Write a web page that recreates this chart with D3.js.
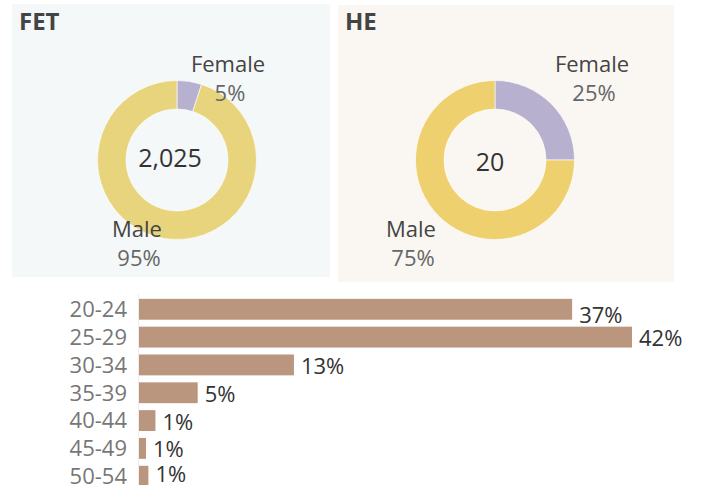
<!DOCTYPE html>
<html>
<head>
<meta charset="utf-8">
<script src="https://cdn.jsdelivr.net/npm/d3@7"></script>
<style>
  body { margin: 0; background: #fff; }
  svg { display: block; font-family: "Open Sans", "Noto Sans", sans-serif; }
</style>
</head>
<body>
<svg id="chart" width="709" height="485"></svg>
<script>
// gender split per sector
var sectors = ["FET", "HE"];
var totals = ["2,025", "20"];
var genders = ["Female", "Male"];
var fetShares = [5, 95];
var heShares = [25, 75];

// age bands
var ageBands = ["20-24", "25-29", "30-34", "35-39", "40-44", "45-49", "50-54"];
var ageShares = [36.9, 42.0, 13.2, 5.0, 1.4, 0.6, 0.8];
var ageLabels = ["37%", "42%", "13%", "5%", "1%", "1%", "1%"];

var svg = d3.select("#chart");

// panel layout (positions only)
var panels = [
  {x: 12, y: 4, w: 318, h: 273, bg: "#f4f8f9", cx: 177, cy: 160, male: "#e8d47d",
   fem: {dx: 51}, mal: {dx: -40}, tdx: -7, tdy: 7, shares: fetShares},
  {x: 338, y: 5, w: 336, h: 277, bg: "#faf7f3", cx: 495, cy: 160, male: "#eed06e",
   fem: {dx: 97}, mal: {dx: -84}, tdx: -5, tdy: 11, shares: heShares}
];

var pie = d3.pie().sort(null).value(function(d) { return d; });
var arc = d3.arc().innerRadius(51).outerRadius(79.5);

panels.forEach(function(p, i) {
  var g = svg.append("g");
  g.append("rect")
    .attr("x", p.x).attr("y", p.y)
    .attr("width", p.w).attr("height", p.h)
    .attr("fill", p.bg);

  g.append("text")
    .attr("x", p.x + 7).attr("y", 30)
    .attr("font-size", 24).attr("font-weight", "bold")
    .attr("fill", "#444")
    .text(sectors[i]);

  var color = d3.scaleOrdinal().domain(genders).range(["#b7b1cf", p.male]);

  var dg = g.append("g").attr("transform", "translate(" + p.cx + "," + p.cy + ")");
  dg.selectAll("path")
    .data(pie(p.shares))
    .enter().append("path")
    .attr("d", arc)
    .attr("fill", function(d, j) { return color(genders[j]); })
    .attr("stroke", "#fff")
    .attr("stroke-width", 0.6);

  dg.append("text")
    .attr("x", p.tdx).attr("y", p.tdy)
    .attr("text-anchor", "middle")
    .attr("font-size", 25)
    .attr("fill", "#333")
    .text(totals[i]);

  var labs = [
    {name: genders[0], pct: p.shares[0] + "%", dx: p.fem.dx, dy: -88},
    {name: genders[1], pct: p.shares[1] + "%", dx: p.mal.dx, dy: 77}
  ];
  labs.forEach(function(l) {
    dg.append("text")
      .attr("x", l.dx).attr("y", l.dy)
      .attr("text-anchor", "middle")
      .attr("font-size", 22)
      .attr("fill", "#444")
      .text(l.name);
    dg.append("text")
      .attr("x", l.dx + 2).attr("y", l.dy + 29)
      .attr("text-anchor", "middle")
      .attr("font-size", 22)
      .attr("fill", "#666")
      .text(l.pct);
  });
});

// age bars
var x = d3.scaleLinear().domain([0, 42]).range([139, 632]);
var y = d3.scaleBand().domain(ageBands).range([295.5, 490]).paddingInner(0.25).paddingOuter(0.12);

svg.append("line")
  .attr("x1", 138.5).attr("x2", 138.5)
  .attr("y1", 294).attr("y2", 485)
  .attr("stroke", "#eeeeee");

svg.selectAll(".bar")
  .data(ageShares)
  .enter().append("rect")
  .attr("class", "bar")
  .attr("x", x(0))
  .attr("y", function(d, i) { return y(ageBands[i]); })
  .attr("width", function(d) { return x(d) - x(0); })
  .attr("height", y.bandwidth())
  .attr("fill", "#bb967f");

svg.selectAll(".blab")
  .data(ageShares)
  .enter().append("text")
  .attr("class", "blab")
  .attr("x", function(d) { return x(d) + 7; })
  .attr("y", function(d, i) {
    var yy = y(ageBands[i]) + y.bandwidth() / 2 + (i == 0 ? 14 : 9);
    return Math.min(yy, 482);
  })
  .attr("font-size", 22)
  .attr("fill", "#333")
  .text(function(d, i) { return ageLabels[i]; });

var yAxis = d3.axisLeft(y).tickSize(0).tickPadding(0);
var ax = svg.append("g")
  .attr("transform", "translate(127,0)")
  .call(yAxis);
ax.select(".domain").remove();
ax.selectAll("text")
  .attr("font-family", "\"Open Sans\", \"Noto Sans\", sans-serif")
  .attr("font-size", 22)
  .attr("fill", "#777")
  .attr("dy", "0.36em");
</script>
</body>
</html>
